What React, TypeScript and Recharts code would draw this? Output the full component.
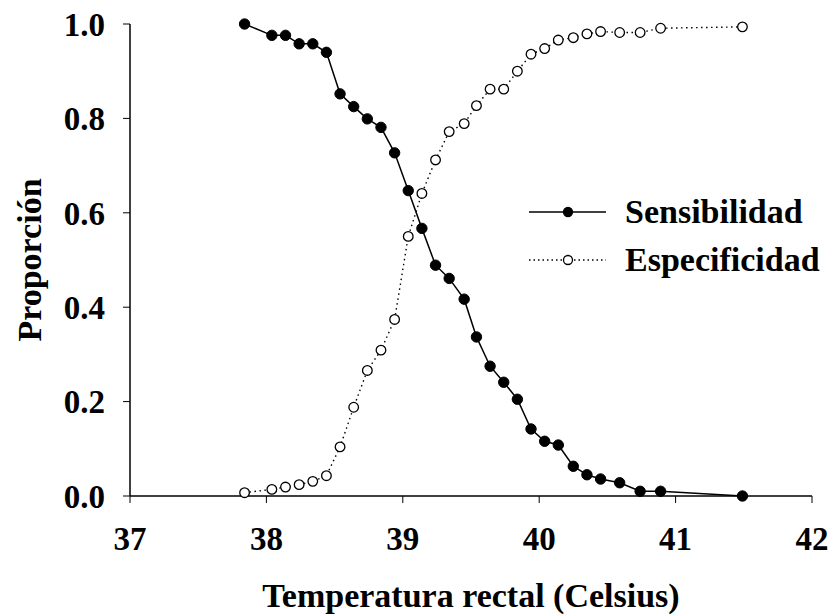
import { LineChart, Line, XAxis, YAxis } from 'recharts';

// rectal temperature cut-offs (Celsius)
const temperatures = [
  37.84, 38.04, 38.14, 38.24, 38.34, 38.44, 38.54, 38.64, 38.74, 38.84,
  38.94, 39.04, 39.14, 39.24, 39.34, 39.45, 39.54, 39.64, 39.74, 39.84,
  39.94, 40.04, 40.14, 40.25, 40.35, 40.45, 40.59, 40.74, 40.89, 41.49,
];

const sensibilidad = [
  1.0, 0.976, 0.976, 0.958, 0.958, 0.94, 0.852, 0.825, 0.799, 0.781,
  0.727, 0.647, 0.567, 0.489, 0.461, 0.417, 0.337, 0.275, 0.241, 0.205,
  0.142, 0.116, 0.108, 0.063, 0.045, 0.036, 0.028, 0.01, 0.01, 0.0,
];

const especificidad = [
  0.007, 0.014, 0.019, 0.024, 0.031, 0.043, 0.104, 0.188, 0.266, 0.309,
  0.374, 0.55, 0.641, 0.712, 0.772, 0.789, 0.827, 0.862, 0.862, 0.9,
  0.936, 0.948, 0.966, 0.971, 0.979, 0.984, 0.982, 0.982, 0.991, 0.994,
];

const xTicks = [37, 38, 39, 40, 41, 42];
const yTicks = [0, 0.2, 0.4, 0.6, 0.8, 1.0];
const legendItems = [
  { name: 'Sensibilidad', filled: true },
  { name: 'Especificidad', filled: false },
];

const data = temperatures.map((t, i) => ({
  temp: t,
  sens: sensibilidad[i],
  spec: especificidad[i],
}));

const font = "'Liberation Serif', 'Times New Roman', serif";
const tickStyle = { fill: '#000', fontSize: 33, fontWeight: 700, fontFamily: font };

const XLabel = (props: any) => {
  const vb = props.viewBox;
  return (
    <text
      x={vb.x + vb.width / 2}
      y={vb.y + 111}
      textAnchor="middle"
      style={{ fontFamily: font, fontWeight: 700, fontSize: 34, fill: '#000' }}
    >
      Temperatura rectal (Celsius)
    </text>
  );
};

const YLabel = (props: any) => {
  const vb = props.viewBox;
  const cy = vb.y + vb.height / 2;
  return (
    <text
      x={41}
      y={cy}
      transform={`rotate(-90 41 ${cy})`}
      textAnchor="middle"
      style={{ fontFamily: font, fontWeight: 700, fontSize: 34, fill: '#000' }}
    >
      Proporción
    </text>
  );
};

function ChartLegend() {
  return (
    <div
      style={{
        position: 'absolute',
        left: 529,
        top: 188,
        fontFamily: font,
        fontWeight: 700,
        fontSize: 34,
        color: '#000',
      }}
    >
      {legendItems.map((item) => (
        <div key={item.name} style={{ display: 'flex', alignItems: 'center', height: 48 }}>
          <svg width={96} height={20} style={{ display: 'block' }}>
            <line
              x1={0}
              y1={10}
              x2={77}
              y2={10}
              stroke="#000"
              strokeWidth={item.filled ? 1.5 : 1.3}
              strokeDasharray={item.filled ? undefined : '1.5 3'}
            />
            <circle
              cx={39}
              cy={10}
              r={4.5}
              fill={item.filled ? '#000' : '#fff'}
              stroke="#000"
              strokeWidth={1.3}
            />
          </svg>
          <span style={{ lineHeight: '48px' }}>{item.name}</span>
        </div>
      ))}
    </div>
  );
}

export default function App() {
  return (
    <div style={{ position: 'relative', width: 833, height: 616, background: '#fff' }}>
      <style>{'body{margin:0}'}</style>
      <LineChart
        width={833}
        height={616}
        data={data}
        margin={{ top: 24, right: 21, left: 0, bottom: 0 }}
      >
        <XAxis
          dataKey="temp"
          type="number"
          domain={[37, 42]}
          ticks={xTicks}
          height={120}
          tickSize={7}
          tickMargin={24}
          tick={tickStyle}
          axisLine={{ stroke: '#000', strokeWidth: 1.5 }}
          tickLine={{ stroke: '#000', strokeWidth: 1 }}
          label={<XLabel />}
        />
        <YAxis
          type="number"
          domain={[0, 1]}
          ticks={yTicks}
          width={130}
          tickSize={7}
          tickMargin={18}
          tick={tickStyle}
          tickFormatter={(v: number) => v.toFixed(1)}
          axisLine={{ stroke: '#000', strokeWidth: 1.5 }}
          tickLine={{ stroke: '#000', strokeWidth: 1 }}
          label={<YLabel />}
        />
        <Line
          dataKey="spec"
          stroke="#000"
          strokeWidth={1.4}
          strokeDasharray="1.5 3.5"
          dot={{ r: 4.8, fill: '#fff', stroke: '#000', strokeWidth: 1.3, strokeDasharray: 'none' }}
          activeDot={false}
          isAnimationActive={false}
        />
        <Line
          dataKey="sens"
          stroke="#000"
          strokeWidth={1.5}
          dot={{ r: 5.2, fill: '#000', stroke: '#000', strokeWidth: 1 }}
          activeDot={false}
          isAnimationActive={false}
        />
      </LineChart>
      <ChartLegend />
    </div>
  );
}
